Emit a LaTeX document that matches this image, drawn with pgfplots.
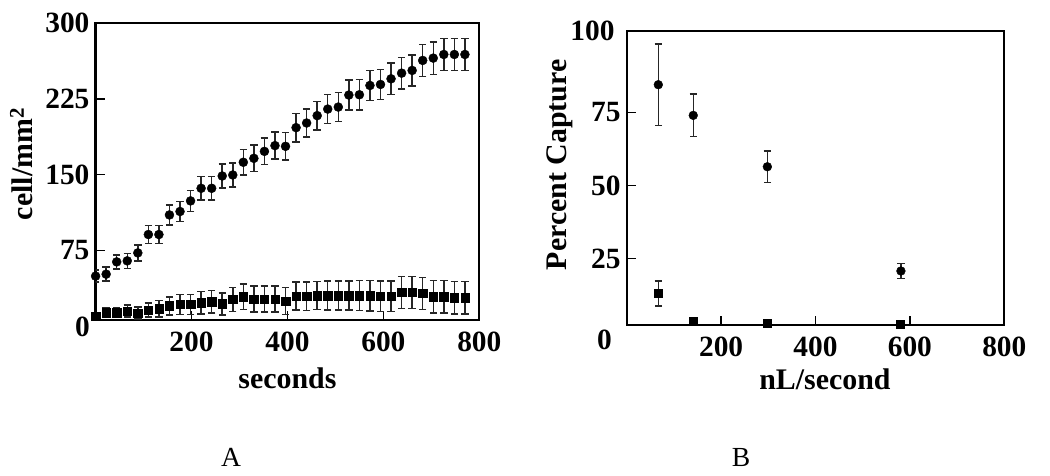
\documentclass[border=0pt]{standalone}
\usepackage{pgfplots}
\usepackage{pgfplotstable}
\pgfplotsset{compat=1.18}
\usepackage{fontspec}
\setmainfont{Liberation Serif}

\pgfplotstableread{
t c ce s se
0 49.5 6 9.9 3
22 51.4 7 13.4 5
44 63.6 7 13.4 5
66 64.6 7.5 14.8 6
88 72.5 8 13 6
110 90.7 9 15.8 7
132 90.7 9 17.1 8
154 110.1 10 20 9
176 113.5 10 21.5 10
198 124 10.5 21.5 10
220 136.5 11.5 23.1 11
242 136.5 11.5 24 11
264 148.7 12 22 11
286 149.7 12 26.4 12
308 162.3 12.5 29 12.5
330 166.2 13 26.8 13
352 173.1 13 26.8 13
374 178.8 13.5 26.8 13
396 178.1 13.5 24.8 13.5
418 196.6 14 29.8 14
440 201.2 14 29.5 14
462 208.5 14 30.2 14
484 215 14.5 30.2 14.5
506 217 14.5 30.2 14.5
528 228.9 15 30.2 14.5
550 229.2 15 30.2 15
572 238.4 15 30 15
594 239.4 15 29.5 15
616 245 15.5 29.5 15
638 250.6 15.5 33.3 16
660 253.3 15.5 33.3 16
682 263.2 16 32.3 16
704 265.5 16 29 16
726 269.1 16 29 16
748 269.1 16 28 16
770 269.1 16 28 16
}\dataA

\pgfplotstableread{
x y e
67 84.5 14
141 74 7.3
298 56.4 5.4
581 20.7 2.5
}\dataBc

\pgfplotstableread{
x y e
67 13 4.3
141 3.6 0
298 2.7 0
580 2.4 0
}\dataBs

\pgfplotsset{
  myaxis/.style={
    scale only axis,
    anchor=south west,
    axis line style={line width=2.2bp},
    tick style={line width=1.6bp, black},
    major tick length=9bp,
    tick pos=left,
    tick align=inside,
    /pgf/number format/assume math mode=true,
    ticklabel style={font=\bfseries\fontsize{29.5}{29.5}\selectfont},
    yticklabel style={inner sep=0pt, xshift=-6bp},
    xticklabel style={inner sep=0pt, yshift=-12bp},
    label style={font=\bfseries\fontsize{30}{30}\selectfont},
    xtick={200,400,600,800},
  },
  errstyle/.style={
    error bars/.cd, y dir=both, y explicit,
    error bar style={line width=1.5bp, black!85},
    error mark options={rotate=90, mark size=3.7bp, line width=1.5bp, black!85},
  },
}

\begin{document}
\begin{tikzpicture}
\useasboundingbox (0,0) rectangle (1050bp,476bp);

\begin{axis}[myaxis,
  at={(95.6bp,156bp)}, width=383.7bp, height=296.7bp,
  xmin=0, xmax=800, ymin=6, ymax=300,
  ytick={75,150,225,300},
  xlabel={seconds},
  ylabel={cell/mm\textsuperscript{2}},
  xlabel style={at={(axis description cs:0.5,-0.195)}, anchor=center},
  ylabel style={at={(axis description cs:-0.193,0.526)}, anchor=center},
]
\addplot[only marks, mark=*, mark size=4.5bp, black, mark options={fill=black}, errstyle]
  table[x=t, y=c, y error=ce] {\dataA};
\addplot[only marks, mark=square*, mark size=4.2bp, black, mark options={fill=black}, errstyle]
  table[x=t, y=s, y error=se] {\dataA};
\end{axis}

\begin{axis}[myaxis,
  at={(626.7bp,151bp)}, width=377.6bp, height=294.3bp,
  xmin=0, xmax=800, ymin=2.2, ymax=103,
  ytick={25,50,75},
  extra y ticks={103}, extra y tick labels={100},
  extra y tick style={yticklabel style={inner sep=0pt, xshift=-6bp}},
  xlabel={nL/second},
  ylabel={Percent Capture},
  xlabel style={at={(axis description cs:0.525,-0.183)}, anchor=center},
  ylabel style={at={(axis description cs:-0.177,0.544)}, anchor=center},
]
\addplot[only marks, mark=*, mark size=4.4bp, black, mark options={fill=black}, errstyle]
  table[x=x, y=y, y error=e] {\dataBc};
\addplot[only marks, mark=square*, mark size=4.1bp, black, mark options={fill=black}, errstyle]
  table[x=x, y=y, y error=e] {\dataBs};
\end{axis}

\node[anchor=east, inner sep=0pt, font=\bfseries\fontsize{29.5}{29.5}\selectfont] at (90bp,149.3bp) {0};
\node[anchor=east, inner sep=0pt, font=\bfseries\fontsize{29.5}{29.5}\selectfont] at (612bp,136bp) {0};
\node[inner sep=0pt, font=\fontsize{27.7}{28}\selectfont] at (231bp,18.5bp) {A};
\node[inner sep=0pt, font=\fontsize{27.7}{28}\selectfont] at (741bp,18.5bp) {B};
\end{tikzpicture}
\end{document}
